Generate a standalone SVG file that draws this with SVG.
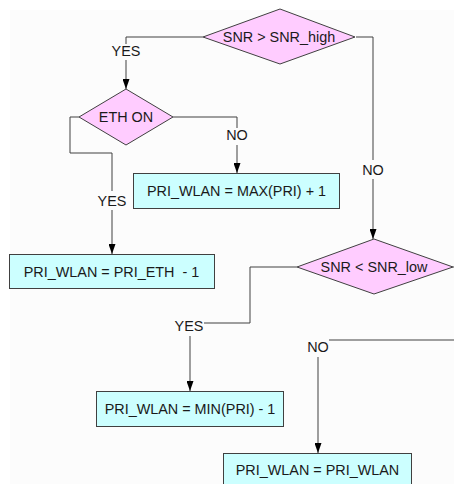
<svg xmlns="http://www.w3.org/2000/svg" width="454" height="484" viewBox="0 0 454 484">
<defs>
<marker id="arr" markerUnits="userSpaceOnUse" markerWidth="10" markerHeight="7" refX="10" refY="3.5" orient="auto">
<path d="M0,0 L10,3.5 L0,7 z" fill="#000"/>
</marker>
<style>
text{font-family:"Liberation Sans",Arial,sans-serif;font-size:14.4px;fill:#1a1a1a;text-anchor:middle;white-space:pre}
.dec{fill:#ffccff;stroke:#404040;stroke-width:1}
.box{fill:#ccffff;stroke:#404040;stroke-width:1}
.ln{fill:none;stroke:#404040;stroke-width:1}
.ar{marker-end:url(#arr)}
</style>
</defs>
<rect x="0" y="0" width="454" height="484" fill="#ffffff"/>
<rect x="10" y="10" width="444" height="474" fill="#fcfcfc"/>
<g id="connectors">
<polyline class="ln" points="203,37 126,37 126,44"/>
<line class="ln ar" x1="126" y1="60" x2="126" y2="89"/>
<text x="126" y="56">YES</text>
<polyline class="ln" points="356,37 373,37 373,160"/>
<line class="ln ar" x1="373" y1="179" x2="373" y2="239"/>
<text x="373" y="175">NO</text>
<polyline class="ln" points="173,117 237,117 237,128"/>
<line class="ln ar" x1="237" y1="145" x2="237" y2="173"/>
<text x="237" y="140">NO</text>
<polyline class="ln" points="79,117 70,117 70,153 112,153 112,191"/>
<line class="ln ar" x1="112" y1="210" x2="112" y2="254"/>
<text x="112" y="206">YES</text>
<polyline class="ln" points="297,267 250,267 250,323 204,323"/>
<line class="ln ar" x1="190" y1="336" x2="190" y2="391"/>
<text x="189" y="331">YES</text>
<line class="ln" x1="453" y1="267" x2="454" y2="267"/>
<line class="ln" x1="329" y1="340" x2="454" y2="340"/>
<line class="ln ar" x1="318" y1="357" x2="318" y2="453"/>
<text x="318" y="352">NO</text>
</g>
<g id="snr_high">
<polygon class="dec" points="203,37 280,9 355,37 280,64"/>
<text x="279" y="42">SNR &gt; SNR_high</text>
</g>
<g id="eth_on">
<polygon class="dec" points="79,117 126,89 173,117 126,145"/>
<text x="126" y="122">ETH ON</text>
</g>
<g id="max_box">
<rect class="box" x="133.5" y="173.5" width="206" height="35"/>
<text x="236.5" y="195.5">PRI_WLAN = MAX(PRI) + 1</text>
</g>
<g id="eth_box">
<rect class="box" x="9.5" y="254.5" width="205" height="34"/>
<text x="111.5" y="276.5">PRI_WLAN = PRI_ETH  - 1</text>
</g>
<g id="snr_low">
<polygon class="dec" points="297,267 374,239 453,267 374,294"/>
<text x="374" y="271.5">SNR &lt; SNR_low</text>
</g>
<g id="min_box">
<rect class="box" x="96.5" y="391.5" width="187" height="35"/>
<text x="190" y="413.5">PRI_WLAN = MIN(PRI) - 1</text>
</g>
<g id="same_box">
<rect class="box" x="223.5" y="453.5" width="188" height="35"/>
<text x="317.5" y="474.5">PRI_WLAN = PRI_WLAN</text>
</g>
</svg>
